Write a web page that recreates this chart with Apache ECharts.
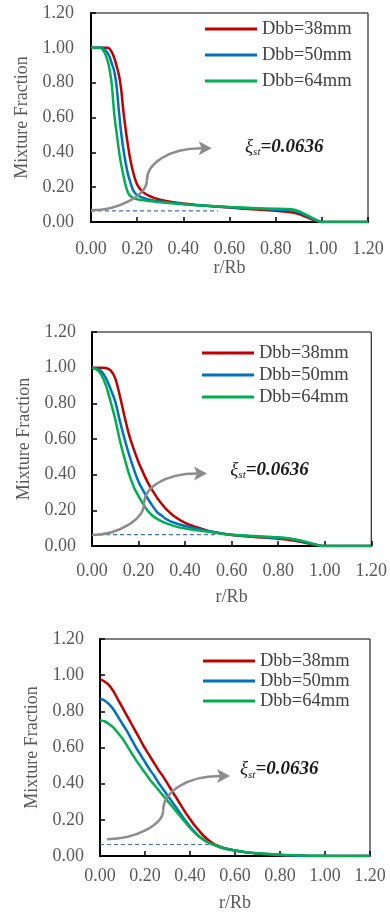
<!DOCTYPE html>
<html>
<head>
<meta charset="utf-8">
<script src="https://cdn.jsdelivr.net/npm/echarts@6/dist/echarts.min.js"></script>
<style>
  html, body { margin: 0; padding: 0; background: #fff; }
  #chart { width: 390px; height: 918px; }
</style>
</head>
<body>
<div id="chart"></div>
<script>
// mixture fraction vs r/Rb (top -> bottom)
const names = ['Dbb=38mm', 'Dbb=50mm', 'Dbb=64mm'];
const colors = ['#C00000', '#0070C0', '#00B050'];
const xiSt = 0.0636;
const xiLineEnd = [0.55, 0.53, 0.49];

// panel 1
const x1 = [0, 0.02, 0.04, 0.05, 0.06, 0.07, 0.08, 0.09, 0.10, 0.11, 0.12, 0.13, 0.14, 0.15, 0.16, 0.17, 0.18, 0.19, 0.20,
  0.22, 0.24, 0.26, 0.28, 0.30, 0.35, 0.40, 0.45, 0.50, 0.60, 0.70, 0.80, 0.85, 0.88, 0.90, 0.92, 0.94, 0.96, 0.98, 1.00, 1.10, 1.20];
const p1d38 = [1, 1, 1, 1, 1, 1, 0.995, 0.975, 0.945, 0.90, 0.85, 0.77, 0.64, 0.535, 0.44, 0.36, 0.30, 0.25, 0.215,
  0.178, 0.158, 0.146, 0.136, 0.128, 0.115, 0.106, 0.099, 0.093, 0.083, 0.073, 0.064, 0.059, 0.053, 0.046, 0.036, 0.025, 0.014, 0.004, 0, 0, 0];
const p1d50 = [1, 1, 1, 1, 0.99, 0.975, 0.95, 0.91, 0.87, 0.79, 0.65, 0.52, 0.42, 0.34, 0.275, 0.23, 0.19, 0.168, 0.155,
  0.141, 0.133, 0.127, 0.122, 0.118, 0.11, 0.104, 0.098, 0.093, 0.084, 0.077, 0.071, 0.068, 0.063, 0.055, 0.044, 0.032, 0.019, 0.007, 0, 0, 0];
const p1d64 = [1, 1, 1, 0.99, 0.97, 0.935, 0.88, 0.79, 0.63, 0.52, 0.42, 0.335, 0.27, 0.21, 0.17, 0.15, 0.14, 0.134, 0.131,
  0.126, 0.122, 0.119, 0.116, 0.113, 0.107, 0.102, 0.097, 0.093, 0.086, 0.08, 0.076, 0.074, 0.07, 0.062, 0.05, 0.037, 0.022, 0.009, 0, 0, 0];

// panel 2
const x2 = [0, 0.02, 0.04, 0.06, 0.08, 0.10, 0.12, 0.14, 0.16, 0.18, 0.20, 0.22, 0.24, 0.26, 0.28, 0.30, 0.32, 0.35,
  0.40, 0.45, 0.50, 0.55, 0.60, 0.70, 0.80, 0.85, 0.90, 0.95, 0.98, 1.00, 1.10, 1.20];
const p2d38 = [1, 1, 1, 0.998, 0.985, 0.94, 0.84, 0.725, 0.62, 0.54, 0.47, 0.41, 0.355, 0.31, 0.27, 0.235, 0.205, 0.17,
  0.13, 0.105, 0.085, 0.072, 0.062, 0.05, 0.041, 0.034, 0.022, 0.009, 0.002, 0, 0, 0];
const p2d50 = [1, 0.995, 0.98, 0.94, 0.88, 0.81, 0.70, 0.60, 0.51, 0.43, 0.36, 0.31, 0.265, 0.225, 0.19, 0.17, 0.15, 0.132,
  0.112, 0.097, 0.084, 0.072, 0.063, 0.053, 0.046, 0.04, 0.027, 0.011, 0.002, 0, 0, 0];
const p2d64 = [1, 0.99, 0.96, 0.90, 0.81, 0.71, 0.59, 0.49, 0.40, 0.33, 0.28, 0.235, 0.197, 0.17, 0.152, 0.138, 0.127, 0.113,
  0.098, 0.088, 0.08, 0.07, 0.063, 0.056, 0.049, 0.042, 0.03, 0.012, 0.003, 0, 0, 0];

// panel 3
const x3 = [0, 0.02, 0.04, 0.06, 0.08, 0.10, 0.12, 0.14, 0.16, 0.18, 0.20, 0.22, 0.24, 0.26, 0.28, 0.30, 0.32, 0.34, 0.36,
  0.38, 0.40, 0.42, 0.44, 0.46, 0.48, 0.50, 0.52, 0.55, 0.60, 0.65, 0.70, 0.80, 0.90, 1.00, 1.10, 1.20];
const p3d38 = [0.978, 0.965, 0.945, 0.91, 0.865, 0.82, 0.775, 0.73, 0.685, 0.64, 0.595, 0.555, 0.515, 0.475, 0.44, 0.40, 0.36, 0.32, 0.28,
  0.24, 0.205, 0.17, 0.14, 0.112, 0.09, 0.072, 0.058, 0.044, 0.03, 0.02, 0.014, 0.006, 0.002, 0, 0, 0];
const p3d50 = [0.87, 0.86, 0.84, 0.81, 0.77, 0.73, 0.69, 0.645, 0.60, 0.56, 0.52, 0.48, 0.445, 0.405, 0.37, 0.335, 0.30, 0.265, 0.23,
  0.195, 0.163, 0.135, 0.11, 0.09, 0.076, 0.065, 0.055, 0.043, 0.03, 0.02, 0.014, 0.006, 0.002, 0, 0, 0];
const p3d64 = [0.75, 0.745, 0.73, 0.71, 0.68, 0.65, 0.61, 0.57, 0.53, 0.495, 0.46, 0.425, 0.395, 0.365, 0.335, 0.305, 0.275, 0.245, 0.215,
  0.185, 0.155, 0.13, 0.108, 0.09, 0.076, 0.065, 0.055, 0.043, 0.03, 0.021, 0.015, 0.007, 0.003, 0.001, 0, 0];

const font = 'Liberation Serif';
const gray = '#595959';

// layout of each panel (pixels) + annotation anchors (data coords)
const panels = [
  { x: x1, ys: [p1d38, p1d50, p1d64], left: 91, right: 22, top: 13, height: 209,
    legendLeft: 205, legendTop: 19, rowGap: 6, yMargin: 17, xMargin: 18, xNameGap: 37, yNameGap: 57,
    arrow: [[0, 0.067], [0.242, 0.24], [0.523, 0.423]], note: [0.667, 0.43] },
  { x: x2, ys: [p2d38, p2d50, p2d64], left: 92, right: 16, top: 332, height: 214,
    legendLeft: 202, legendTop: 343, rowGap: 2, yMargin: 16, xMargin: 16, xNameGap: 42, yNameGap: 57,
    arrow: [[0, 0.062], [0.224, 0.239], [0.494, 0.407]], note: [0.594, 0.426] },
  { x: x3, ys: [p3d38, p3d50, p3d64], left: 100, right: 20, top: 639, height: 217,
    legendLeft: 203, legendTop: 651, rowGap: 0, yMargin: 16, xMargin: 11, xNameGap: 38, yNameGap: 57,
    arrow: [[0.032, 0.093], [0.281, 0.253], [0.578, 0.442]], note: [0.622, 0.479] }
];

const fmt = v => v.toFixed(2);
const grid = [], xAxis = [], yAxis = [], legend = [], series = [];

panels.forEach((p, i) => {
  grid.push({ left: p.left, right: p.right, top: p.top, height: p.height,
    show: true, borderColor: '#000', borderWidth: 1 });

  xAxis.push({
    type: 'value', gridIndex: i, min: 0, max: 1.2, interval: 0.2,
    name: 'r/Rb', nameLocation: 'middle', nameGap: p.xNameGap,
    nameTextStyle: { fontFamily: font, fontSize: 18, color: gray },
    axisLine: { onZero: false, lineStyle: { color: '#000', width: 2 } },
    axisTick: { inside: true, length: 5, lineStyle: { color: '#000', width: 1.5 } },
    axisLabel: { formatter: fmt, fontFamily: font, fontSize: 18, color: gray, margin: p.xMargin },
    splitLine: { show: false }
  });

  yAxis.push({
    type: 'value', gridIndex: i, min: 0, max: 1.2, interval: 0.2,
    name: 'Mixture Fraction', nameLocation: 'middle', nameGap: p.yNameGap,
    nameTextStyle: { fontFamily: font, fontSize: 18, color: gray },
    axisLine: { onZero: false, lineStyle: { color: '#000', width: 2 } },
    axisTick: { inside: true, length: 5, lineStyle: { color: '#000', width: 1.5 } },
    axisLabel: { formatter: fmt, fontFamily: font, fontSize: 18, color: gray, margin: p.yMargin },
    splitLine: { show: false }
  });

  legend.push({
    data: names, orient: 'vertical', left: p.legendLeft, top: p.legendTop,
    padding: 0, itemGap: p.rowGap, itemWidth: 52, itemHeight: 3, icon: 'rect',
    selectedMode: false,
    textStyle: { fontFamily: font, fontSize: 18.5, color: '#404040', lineHeight: 20 }
  });

  // stoichiometric mixture fraction guide
  series.push({
    name: 'xi_st', type: 'line', xAxisIndex: i, yAxisIndex: i, silent: true,
    data: [[0, xiSt], [xiLineEnd[i], xiSt]], showSymbol: false, z: 2,
    lineStyle: { color: '#4472C4', width: 1.2, type: [4, 3] }
  });

  names.forEach((n, k) => {
    series.push({
      name: n, type: 'line', xAxisIndex: i, yAxisIndex: i, silent: true,
      data: p.x.map((xv, j) => [xv, p.ys[k][j]]),
      showSymbol: false, smooth: 0.3, z: 3 + k,
      itemStyle: { color: colors[k] },
      lineStyle: { color: colors[k], width: 2.5 }
    });
  });
});

const chart = echarts.init(document.getElementById('chart'));
chart.setOption({ animation: false, backgroundColor: '#fff', grid, xAxis, yAxis, legend, series });

// curved arrow + xi_st label, placed from data coordinates
const graphic = [];
const arrowStyle = { stroke: '#8c8c8c', lineWidth: 2.5, fill: null };
panels.forEach((p, i) => {
  const toPx = pt => chart.convertToPixel({ gridIndex: i }, pt);
  const [x0, y0] = toPx(p.arrow[0]);
  const [xm, ym] = toPx(p.arrow[1]);
  const [xt, yt] = toPx(p.arrow[2]);
  const xb = xt - 13;
  graphic.push({ type: 'bezierCurve', z: 100, style: arrowStyle,
    shape: { x1: x0, y1: y0, cpx1: x0 + (xm - x0) * 0.5, cpy1: y0,
             cpx2: xm, cpy2: ym + (y0 - ym) * 0.5, x2: xm, y2: ym } });
  graphic.push({ type: 'bezierCurve', z: 100, style: arrowStyle,
    shape: { x1: xm, y1: ym, cpx1: xm, cpy1: ym - (ym - yt) * 0.5,
             cpx2: xm + (xb - xm) * 0.4, cpy2: yt, x2: xb + 3, y2: yt } });
  graphic.push({ type: 'polygon', z: 100,
    shape: { points: [[xt, yt], [xb, yt - 7], [xb + 3, yt], [xb, yt + 7]] },
    style: { fill: '#8c8c8c' } });

  const [tx, ty] = toPx(p.note);
  graphic.push({ type: 'text', z: 100, x: tx, y: ty,
    style: {
      text: '{a|ξ}{b|st}{c|=0.0636}', verticalAlign: 'middle', fill: '#1a1a1a',
      rich: {
        a: { fontFamily: font, fontStyle: 'italic', fontSize: 19, lineHeight: 22 },
        b: { fontFamily: font, fontStyle: 'italic', fontSize: 11, lineHeight: 12, verticalAlign: 'bottom' },
        c: { fontFamily: font, fontStyle: 'italic', fontWeight: 'bold', fontSize: 19, lineHeight: 22 }
      }
    } });
});
chart.setOption({ graphic });
</script>
</body>
</html>
